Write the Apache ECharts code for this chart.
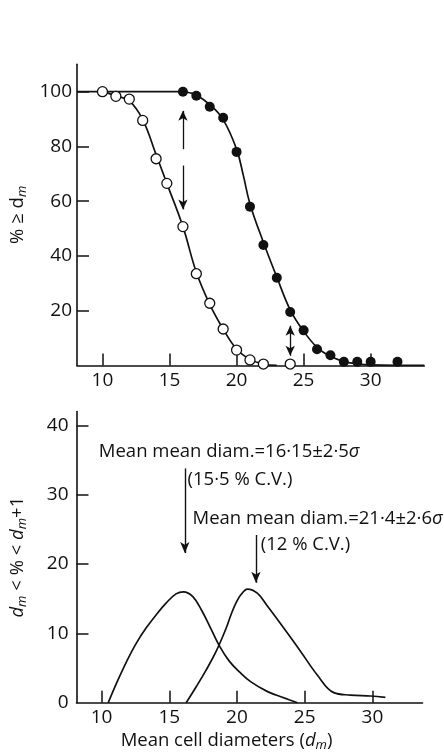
<!DOCTYPE html>
<html>
<head>
<meta charset="utf-8">
<script src="https://cdn.jsdelivr.net/npm/echarts@6/dist/echarts.min.js"></script>
<style>
html,body{margin:0;padding:0;background:#fff;}
#c{width:444px;height:754px;}
</style>
</head>
<body>
<div id="c"></div>
<script>
// ---- data ----
var xTicks = [10, 15, 20, 25, 30];
var topYTicks = [20, 40, 60, 80, 100];
var bottomYTicks = [0, 10, 20, 30, 40];

// upper panel: % >= d_m
var openPoints = [[10,100],[11,98.3],[12,97.3],[13,89.5],[14,75.5],[14.8,66.5],[16,50.7],[17,33.5],[18,22.7],[19,13.3],[20,5.6],[21,2],[22,0.5],[24,0.5]];
var filledPoints = [[16,100],[17,98.5],[18,94.5],[19,90.5],[20,78],[21,58],[22,44],[23,32],[24,19.5],[25,12.8],[26,5.9],[27,3.7],[28,1.3],[29,1.3],[30,1.3],[32,1.3]];
var openCurve = [[10,100],[11,98.5],[12,96.6],[13,89.8],[14,77],[14.8,66.5],[16,50.7],[17,34],[18,22.3],[19,13.3],[20,6],[21,2.2],[22,0.5],[23,0]];
var filledCurve = [[8.1,100],[16,100],[16.5,99.6],[17,98.8],[18,95.3],[19,89.8],[20,79],[20.5,69.5],[21,59],[22,45],[23,32.3],[24,20.3],[25,12.5],[26,6.6],[27,3.3],[28,1.4],[29,0.6],[30,0.2],[34,0]];
var topArrows = [
  {from:[16,79], to:[16,93], heads:['none','arrow']},
  {from:[16,73], to:[16,57], heads:['none','arrow']},
  {from:[24,3.5], to:[24,14.5], heads:['arrow','arrow']}
];

// lower panel: d_m < % < d_m+1
var curveSmall = [[10.49,0],[11.1,2.8],[11.84,5.9],[12.57,8.6],[13.3,10.8],[14.04,12.7],[14.78,14.4],[15.5,15.7],[16.05,16],[16.74,15.3],[17.4,13.3],[18.09,10.6],[18.7,8.2],[19.43,6.0],[20.2,4.4],[21.03,3.0],[22.26,1.6],[23.48,0.7],[24.46,0]];
var curveLarge = [[16.25,0],[16.99,2.3],[17.72,4.7],[18.46,7.4],[19.19,10.7],[19.6,12.9],[19.93,14.4],[20.3,15.6],[20.78,16.4],[21.5,15.8],[22.26,13.9],[23.48,10.7],[24.7,7.4],[25.93,4.0],[27.15,1.45],[28.38,1.1],[29.85,0.97],[30.96,0.78]];
var bottomArrows = [
  {from:[16.15,33.8], to:[16.15,21.6]},
  {from:[21.4,24.2], to:[21.4,17.3]}
];
var notes = [
  [9.8, 36.2, 'Mean mean diam.=16·15±2·5{i|σ}'],
  [16.35, 32.2, '(15·5 % C.V.)'],
  [16.72, 26.6, 'Mean mean diam.=21·4±2·6{i|σ}'],
  [21.76, 22.75, '(12 % C.V.)']
];

// ---- chart ----
var INK = '#111';
var FONT = 'Open Sans';
var FS = 18.5;   // annotation / title size
var TS = 19;     // tick label size

function merge(a, b) { for (var k in b) a[k] = b[k]; return a; }
function axisBase() {
  return {
    axisLine: {show: true, onZero: false, lineStyle: {color: INK, width: 1.6}},
    splitLine: {show: false}
  };
}
function ticks(vals) {
  return {show: true, inside: true, length: 12, customValues: vals, lineStyle: {color: INK, width: 1.5}};
}
function labels(vals, margin) {
  return {color: INK, fontFamily: FONT, fontSize: TS, margin: margin, customValues: vals};
}

var subRich = {
  s: {fontFamily: FONT, fontSize: 13, fontStyle: 'italic', color: INK, padding: [9, 0, 0, 0]},
  d: {fontFamily: FONT, fontSize: FS, fontStyle: 'italic', color: INK},
  n: {fontFamily: FONT, fontSize: FS, color: INK}
};

function arrowLines(list) {
  return list.map(function (a) {
    var h = a.heads || ['none', 'arrow'];
    return [{coord: a.from, symbol: h[0]}, {coord: a.to, symbol: h[1]}];
  });
}

var lineStyle = {color: INK, width: 1.7};

var option = {
  animation: false,
  backgroundColor: '#fff',
  grid: [
    {left: 73.3, top: 64.3, width: 351, height: 301.1},
    {left: 75, top: 411.6, width: 347.5, height: 291.1}
  ],
  xAxis: [
    merge(axisBase(), {
      type: 'value', gridIndex: 0, min: 8.1, max: 34,
      axisTick: ticks(xTicks), axisLabel: labels(xTicks, 6)
    }),
    merge(axisBase(), {
      type: 'value', gridIndex: 1, min: 8.15, max: 33.7,
      axisTick: ticks(xTicks), axisLabel: labels(xTicks, 5),
      name: '{n|Mean cell diameters (}{d|d}{s|m}{n|)}',
      nameLocation: 'middle', nameGap: 27,
      nameTextStyle: {fontFamily: FONT, fontSize: FS, color: INK, padding: [0, 46, 0, 0], rich: subRich}
    })
  ],
  yAxis: [
    merge(axisBase(), {
      type: 'value', gridIndex: 0, min: 0, max: 110,
      axisTick: ticks(topYTicks), axisLabel: labels(topYTicks, 5),
      name: '{n|% ≥ d}{s|m}',
      nameLocation: 'middle', nameGap: 48, nameRotate: 90,
      nameTextStyle: {fontFamily: FONT, fontSize: FS, color: INK, rich: subRich}
    }),
    merge(axisBase(), {
      type: 'value', gridIndex: 1, min: 0, max: 42,
      axisTick: ticks([10, 20, 30, 40]), axisLabel: labels(bottomYTicks, 8),
      name: '{d|d}{s|m}{n| < % < }{d|d}{s|m}{n|+1}',
      nameLocation: 'middle', nameGap: 48, nameRotate: 90,
      nameTextStyle: {fontFamily: FONT, fontSize: FS, color: INK, rich: subRich}
    })
  ],
  series: [
    {
      type: 'line', xAxisIndex: 0, yAxisIndex: 0, data: filledCurve,
      smooth: 0.4, symbol: 'none', lineStyle: lineStyle, z: 2,
      markLine: {
        silent: true, symbolSize: [7, 10], label: {show: false},
        lineStyle: {color: INK, width: 1.3, type: 'solid'},
        data: arrowLines(topArrows)
      }
    },
    {
      type: 'line', xAxisIndex: 0, yAxisIndex: 0, data: openCurve,
      smooth: 0.4, symbol: 'none', lineStyle: lineStyle, z: 2
    },
    {
      type: 'scatter', xAxisIndex: 0, yAxisIndex: 0, data: openPoints,
      symbol: 'circle', symbolSize: 10,
      itemStyle: {color: '#fff', borderColor: INK, borderWidth: 1.3, opacity: 1}, z: 3
    },
    {
      type: 'scatter', xAxisIndex: 0, yAxisIndex: 0, data: filledPoints,
      symbol: 'circle', symbolSize: 10,
      itemStyle: {color: INK, borderColor: INK, borderWidth: 0, opacity: 1}, z: 3
    },
    {
      type: 'line', xAxisIndex: 1, yAxisIndex: 1, data: curveSmall,
      smooth: 0.4, symbol: 'none', lineStyle: lineStyle,
      markLine: {
        silent: true, symbolSize: [7, 11], label: {show: false},
        lineStyle: {color: INK, width: 1.4, type: 'solid'},
        data: arrowLines(bottomArrows)
      }
    },
    {
      type: 'line', xAxisIndex: 1, yAxisIndex: 1, data: curveLarge,
      smooth: 0.4, symbol: 'none', lineStyle: lineStyle
    },
    {
      type: 'scatter', xAxisIndex: 1, yAxisIndex: 1, data: notes,
      symbolSize: 0, silent: true,
      itemStyle: {opacity: 1, color: INK},
      label: {
        show: true, position: 'right', distance: 0,
        formatter: function (p) { return p.data[2]; },
        fontFamily: FONT, fontSize: FS, color: INK,
        rich: {i: {fontFamily: FONT, fontSize: FS, fontStyle: 'italic', color: INK}}
      }
    }
  ]
};

var chart = echarts.init(document.getElementById('c'), null, {renderer: 'canvas'});
chart.setOption(option);
</script>
</body>
</html>
